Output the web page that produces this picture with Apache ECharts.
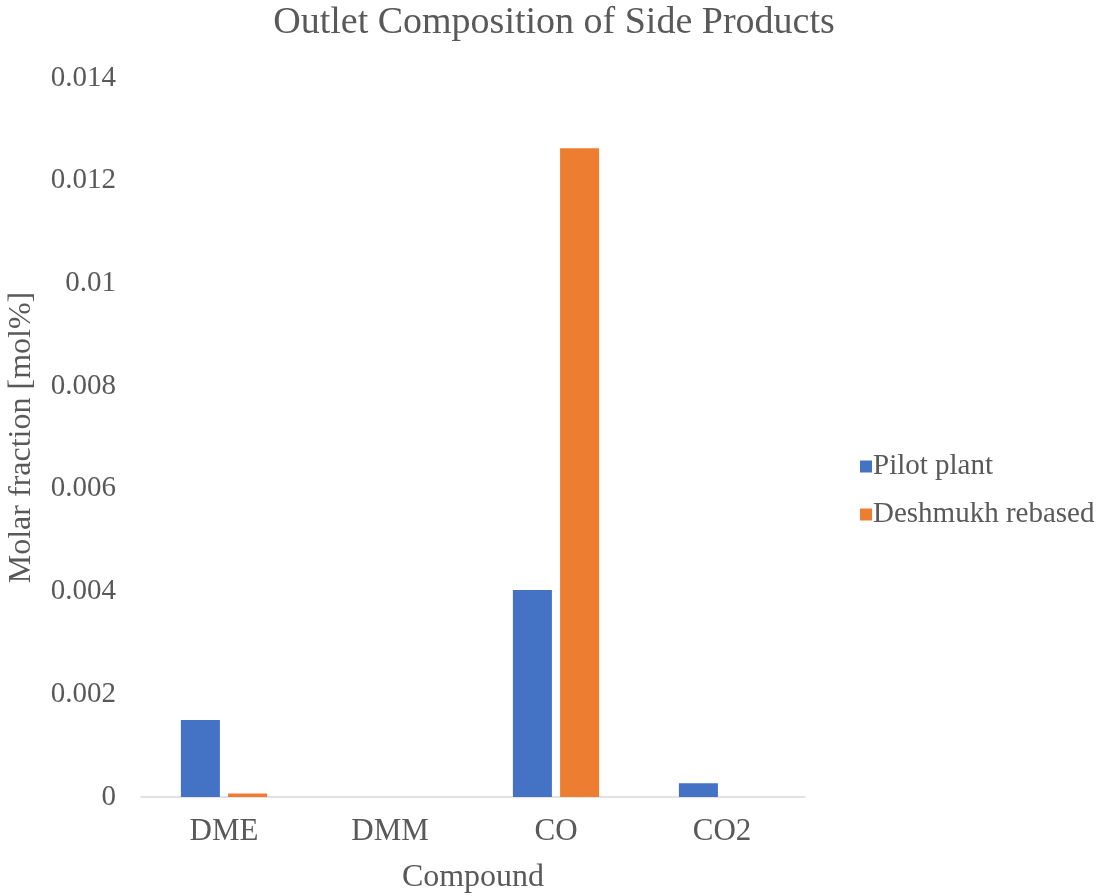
<!DOCTYPE html>
<html>
<head>
<meta charset="utf-8">
<script src="https://cdn.jsdelivr.net/npm/echarts@6/dist/echarts.min.js"></script>
<style>
  html, body { margin: 0; padding: 0; background: #ffffff; }
  #chart { width: 1109px; height: 896px; }
</style>
</head>
<body>
<div id="chart"></div>
<script>
// Outlet molar fractions of side products per compound
const categories = ['DME', 'DMM', 'CO', 'CO2'];
const pilotPlant = [0.0015, 0, 0.00403, 0.00027];
const deshmukhRebased = [0.00007, 0, 0.01263, 0];
const yTicks = [0, 0.002, 0.004, 0.006, 0.008, 0.01, 0.012, 0.014];

const serif = '"Liberation Serif", "DejaVu Serif", serif';
const chart = echarts.init(document.getElementById('chart'));

chart.setOption({
  backgroundColor: '#ffffff',
  animation: false,
  title: {
    text: 'Outlet Composition of Side Products',
    left: 549,
    textAlign: 'center',
    top: -1,
    textStyle: { fontFamily: serif, fontSize: 38, fontWeight: 'normal', color: '#595959' }
  },
  legend: {
    orient: 'vertical',
    left: 855,
    top: 447,
    itemWidth: 12,
    itemHeight: 12,
    itemGap: 19,
    icon: 'rect',
    textStyle: { fontFamily: serif, fontSize: 29, lineHeight: 29, color: '#595959', padding: [0, 0, 0, -4] },
    data: ['Pilot plant', 'Deshmukh rebased']
  },
  grid: { left: 141, right: 304, top: 78, bottom: 99, containLabel: false, outerBoundsMode: 'none' },
  xAxis: {
    type: 'category',
    data: categories,
    name: 'Compound',
    nameLocation: 'middle',
    nameGap: 65,
    nameTextStyle: { fontFamily: serif, fontSize: 32, color: '#595959' },
    axisLine: { lineStyle: { color: '#d9d9d9', width: 1.5 } },
    axisTick: { show: false },
    axisLabel: { fontFamily: serif, fontSize: 31, color: '#595959', margin: 19 }
  },
  yAxis: {
    type: 'value',
    min: yTicks[0],
    max: yTicks[yTicks.length - 1],
    interval: 0.002,
    name: 'Molar fraction [mol%]',
    nameLocation: 'middle',
    nameGap: 103,
    nameTextStyle: { fontFamily: serif, fontSize: 32, color: '#595959' },
    axisLine: { show: false },
    axisTick: { show: false },
    splitLine: { show: false },
    axisLabel: {
      fontFamily: serif, fontSize: 29, color: '#595959', margin: 25,
      formatter: v => {
        const t = yTicks.find(x => Math.abs(x - v) < 1e-9);
        return t === undefined ? '' : String(t);
      }
    }
  },
  series: [
    {
      name: 'Pilot plant',
      type: 'bar',
      data: pilotPlant,
      barWidth: '23.5%',
      barGap: '21%',
      itemStyle: { color: '#4472c4' }
    },
    {
      name: 'Deshmukh rebased',
      type: 'bar',
      data: deshmukhRebased,
      barWidth: '23.5%',
      itemStyle: { color: '#ed7d31' }
    }
  ]
});
</script>
</body>
</html>
